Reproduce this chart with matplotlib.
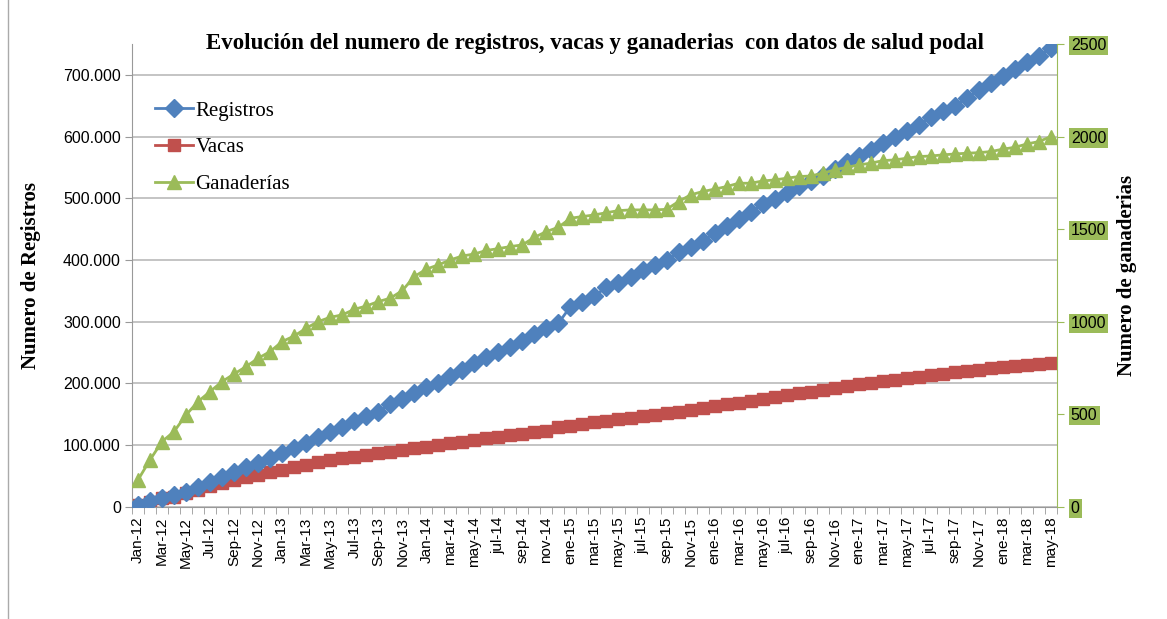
import numpy as np
import matplotlib.pyplot as plt
from matplotlib.ticker import FuncFormatter, FixedLocator
from matplotlib.lines import Line2D

# monthly categories Jan-12 .. may-18 (77 months), labelled every 2 months
tick_labels = ["Jan-12", "Mar-12", "May-12", "Jul-12", "Sep-12", "Nov-12",
               "Jan-13", "Mar-13", "May-13", "Jul-13", "Sep-13", "Nov-13",
               "Jan-14", "mar-14", "may-14", "jul-14", "sep-14", "nov-14",
               "ene-15", "mar-15", "may-15", "jul-15", "sep-15", "Nov-15",
               "ene-16", "mar-16", "may-16", "jul-16", "sep-16", "Nov-16",
               "ene-17", "mar-17", "may-17", "jul-17", "sep-17", "Nov-17",
               "ene-18", "mar-18", "may-18"]
n_months = 77

registros = [3000, 9000, 14000, 19000, 25000, 32000,
             41000, 49000, 56500, 64000, 72000, 78900, 88000, 95100, 103200, 113000,
             122000, 130100, 139900, 147500, 154500, 166900, 174500, 184200, 195000,
             201500, 211800, 222500,
             233900, 243600, 251700, 259800, 269500, 280400, 289600, 297700, 324600,
             332700, 342000, 356000, 363500, 373300, 384100, 392200, 400300, 412200,
             421900, 431600, 443600, 454300, 466300, 478000, 490000,
             498700, 508400, 519100, 527200, 535300, 547300, 558000, 568900, 577500,
             589500, 599200, 608300, 619100, 631600, 640700, 649900, 662400, 675900,
             686700, 698500, 709400, 720100, 729800, 743400]

vacas = [3200, 8600, 14100, 16700, 22200, 27600, 34000, 38400, 43800, 49100,
         51900, 56200, 60000, 64300, 68100, 72400, 76200, 78900, 81500, 84300,
         87000, 89600, 92400, 95100, 97700, 100500, 103200, 105900,
         108500, 111000, 113500, 116000, 118500, 121000, 123500, 129500, 131500,
         134000, 137000, 139500, 142000, 144500, 147000, 149500, 152000, 154500,
         157000, 160000, 163000, 166000, 169000, 172000, 175000, 178000, 181000,
         184000, 187000, 190000, 193000, 196000, 198500, 201000, 203500, 206000,
         208500, 211000, 213500, 216000, 218500, 220500, 222500, 224500, 226500,
         228300, 230000, 231700, 233400]

ganaderias = [146, 254, 353, 407, 497, 569, 623, 677, 718, 758,
              803, 839, 893, 923, 965, 1001, 1024, 1037, 1067, 1085,
              1109, 1127, 1168, 1244, 1284, 1307, 1334, 1355,
              1366, 1385, 1395, 1406, 1415, 1456, 1487, 1510, 1559, 1568,
              1577, 1589, 1600, 1604, 1604, 1604, 1607, 1649, 1685, 1703,
              1716, 1730, 1748, 1748, 1760,
              1766, 1775, 1784, 1787, 1802, 1820, 1834, 1847, 1856, 1870,
              1874, 1883, 1892, 1895, 1901, 1906, 1910, 1913, 1919, 1932,
              1942, 1960, 1973, 2000]

BLUE = "#4F81BD"
RED = "#C0504D"
GREEN = "#9BBB59"
SANS = "Liberation Sans"
SERIF = "Liberation Serif"

x = np.arange(n_months)

fig = plt.figure(figsize=(11.67, 6.19), dpi=100)
ax = fig.add_axes([0.1131, 0.181, 0.7926, 0.748])
ax2 = ax.twinx()

ax.plot(x, registros, color=BLUE, marker="D", markersize=9, linewidth=2, zorder=3)
ax.plot(x, vacas, color=RED, marker="s", markersize=8.5, linewidth=2, zorder=2)
ax2.plot(x, ganaderias, color=GREEN, marker="^", markersize=10, linewidth=2, zorder=2)

# left axis
ax.set_ylim(0, 750000)
ax.set_yticks(np.arange(0, 700001, 100000))
ax.yaxis.set_major_formatter(FuncFormatter(lambda v, p: f"{v:,.0f}".replace(",", ".")))
ax.grid(axis="y", color="#b4b4b4", linewidth=1.1)
ax.set_axisbelow(True)
for lab in ax.get_yticklabels():
    lab.set_fontfamily(SANS)
ax.tick_params(axis="y", labelsize=11.5, length=5, color="#999999", pad=3)
ax.set_ylabel("Numero de Registros", family=SERIF, fontsize=15, fontweight="bold", labelpad=16)

# right axis
ax2.set_ylim(0, 2500)
ax2.set_yticks(np.arange(0, 2501, 500))
ax2.tick_params(axis="y", labelsize=11.5, length=5, color=GREEN, pad=5)
for lab in ax2.get_yticklabels():
    lab.set_fontfamily(SANS)
    lab.set_bbox(dict(facecolor=GREEN, edgecolor="none", pad=1.5))
ax2.set_ylabel("Numero de ganaderias", family=SERIF, fontsize=15, fontweight="bold", labelpad=8)

# x axis: labels every 2 months, tick marks between categories
ax.set_xlim(-0.5, n_months - 0.5)
ax.xaxis.set_major_locator(FixedLocator(np.arange(0, n_months, 2)))
ax.set_xticklabels(tick_labels, rotation=90, fontfamily=SANS, fontsize=11)
ax.xaxis.set_minor_locator(FixedLocator(np.arange(-0.5, n_months, 1)))
ax.tick_params(axis="x", which="major", length=0, pad=7)
ax.tick_params(axis="x", which="minor", length=5, color="#999999")

for a in (ax, ax2):
    a.spines["top"].set_visible(False)
    a.spines["left"].set_color("#999999")
    a.spines["bottom"].set_color("#999999")
    a.spines["right"].set_visible(False)
ax2.spines["right"].set_visible(True)
ax2.spines["right"].set_color(GREEN)
ax2.spines["left"].set_visible(False)
ax2.spines["bottom"].set_visible(False)

handles = [Line2D([], [], color=BLUE, marker="D", markersize=9, linewidth=2),
           Line2D([], [], color=RED, marker="s", markersize=8.5, linewidth=2),
           Line2D([], [], color=GREEN, marker="^", markersize=10, linewidth=2)]
ax2.legend(handles, ["Registros", "Vacas", "Ganaderías"], loc="upper left",
           bbox_to_anchor=(155 / 1167, 1 - 101 / 619), bbox_transform=fig.transFigure,
           frameon=False, prop={"family": SERIF, "size": 15},
           handlelength=1.8, handletextpad=0.15, labelspacing=0.82,
           borderpad=0, borderaxespad=0)

fig.text(0.51, 1 - 43 / 619,
         "Evolución del numero de registros, vacas y ganaderias  con datos de salud podal",
         ha="center", va="center", family=SERIF, fontsize=16.5, fontweight="bold")

# outer frame line on the left
fig.add_artist(Line2D([8 / 1167, 8 / 1167], [0, 1], transform=fig.transFigure,
                      color="#aaaaaa", linewidth=1))

fig.savefig("out.png", dpi=100)
